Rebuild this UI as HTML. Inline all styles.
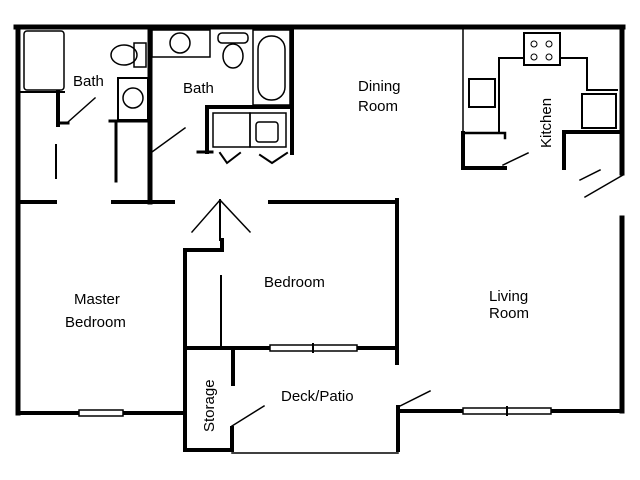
<!DOCTYPE html>
<html><head><style>html,body{margin:0;padding:0;background:#fff}svg{display:block}text{font-family:"Liberation Sans",sans-serif;font-size:15px;fill:#000}</style></head>
<body>
<svg width="640" height="480" viewBox="0 0 640 480" xmlns="http://www.w3.org/2000/svg">
<g stroke="#000" fill="none" stroke-linecap="square">
<!-- outer walls -->
<line x1="16" y1="27" x2="623" y2="27" stroke-width="5"/>
<line x1="18" y1="27" x2="18" y2="413" stroke-width="5"/>
<line x1="18" y1="413" x2="185" y2="413" stroke-width="4"/>
<line x1="622" y1="27" x2="622" y2="173" stroke-width="5"/>
<line x1="622" y1="218" x2="622" y2="411" stroke-width="5"/>
<line x1="398" y1="411" x2="622" y2="411" stroke-width="4"/>
<!-- windows -->
<rect x="79" y="410" width="44" height="6" fill="#fff" stroke-width="1.5"/>
<rect x="463" y="408" width="88" height="6" fill="#fff" stroke-width="1.5"/><line x1="507" y1="407" x2="507" y2="415" stroke-width="2"/>
<!-- bath 1 -->
<rect x="24" y="31" width="40" height="59" stroke-width="1.5" rx="3"/>
<line x1="18" y1="92" x2="64" y2="92" stroke-width="2"/>
<line x1="58" y1="92" x2="58" y2="125" stroke-width="4"/>
<line x1="58" y1="123" x2="68" y2="123" stroke-width="3"/>
<line x1="68" y1="122" x2="95" y2="98" stroke-width="1.5"/>
<line x1="56" y1="145" x2="56" y2="180" stroke-width="2" stroke-dasharray="3,2"/>
<ellipse cx="124" cy="55" rx="13" ry="10" stroke-width="1.5"/>
<rect x="134" y="43" width="12" height="24" stroke-width="1.5"/>
<rect x="118" y="78" width="30" height="42" stroke-width="2"/>
<circle cx="133" cy="98" r="10" stroke-width="1.5"/>
<line x1="110" y1="121" x2="148" y2="121" stroke-width="3"/>
<line x1="116" y1="121" x2="116" y2="181" stroke-width="3" stroke-dasharray="5,2"/>
<line x1="150" y1="27" x2="150" y2="202" stroke-width="5"/>
<line x1="18" y1="202" x2="55" y2="202" stroke-width="4"/>
<line x1="113" y1="202" x2="173" y2="202" stroke-width="4"/>
<!-- bath 2 -->
<rect x="152" y="30" width="58" height="27" stroke-width="1.5"/>
<circle cx="180" cy="43" r="10" stroke-width="1.5"/>
<rect x="218" y="33" width="30" height="10" rx="4" stroke-width="1.5"/>
<ellipse cx="233" cy="56" rx="10" ry="12" stroke-width="1.5"/>
<rect x="253" y="30" width="37" height="75" stroke-width="1.5"/>
<rect x="258" y="36" width="27" height="64" rx="13" stroke-width="1.5"/>
<line x1="292" y1="27" x2="292" y2="153" stroke-width="4"/>
<line x1="207" y1="107" x2="292" y2="107" stroke-width="4"/>
<line x1="207" y1="107" x2="207" y2="152" stroke-width="4"/>
<line x1="198" y1="152" x2="212" y2="152" stroke-width="3"/>
<rect x="213" y="113" width="37" height="34" stroke-width="1.5"/>
<rect x="250" y="113" width="36" height="34" stroke-width="1.5"/>
<rect x="256" y="122" width="22" height="20" rx="3" stroke-width="1.5"/>
<polyline points="220,153 227,163 240,153" stroke-width="2"/>
<polyline points="260,155 272,163 287,153" stroke-width="2"/>
<line x1="152" y1="152" x2="185" y2="128" stroke-width="1.5"/>
<!-- bedroom -->
<line x1="270" y1="202" x2="397" y2="202" stroke-width="4"/>
<line x1="397" y1="200" x2="397" y2="363" stroke-width="4"/>
<line x1="220" y1="200" x2="220" y2="240" stroke-width="2"/>
<line x1="220" y1="200" x2="192" y2="232" stroke-width="1.5"/>
<line x1="220" y1="200" x2="250" y2="232" stroke-width="1.5"/>
<polyline points="222,240 222,250 185,250 185,450 232,450 232,428" stroke-width="4"/>
<line x1="221" y1="276" x2="221" y2="348" stroke-width="2" stroke-dasharray="6,2"/>
<line x1="185" y1="348" x2="395" y2="348" stroke-width="4"/>
<rect x="270" y="345" width="87" height="6" fill="#fff" stroke-width="1.5"/><line x1="313" y1="344" x2="313" y2="352" stroke-width="2"/>
<line x1="233" y1="350" x2="233" y2="384" stroke-width="4"/>
<line x1="232" y1="426" x2="264" y2="406" stroke-width="1.5"/>
<line x1="232" y1="453" x2="398" y2="453" stroke-width="1.5"/>
<line x1="398" y1="407" x2="398" y2="450" stroke-width="4"/>
<line x1="398" y1="407" x2="430" y2="391" stroke-width="1.5"/>
<!-- kitchen -->
<line x1="463" y1="27" x2="463" y2="133" stroke-width="1.5"/>
<polyline points="463,133 463,168 505,168" stroke-width="4"/>
<polyline points="463,133 505,133 505,138" stroke-width="2.5"/>
<polyline points="499,133 499,58 524,58" stroke-width="2"/>
<rect x="469" y="79" width="26" height="28" stroke-width="2"/>
<rect x="524" y="33" width="36" height="32" stroke-width="2"/>
<circle cx="534" cy="44" r="3"/><circle cx="549" cy="44" r="3"/><circle cx="534" cy="57" r="3"/><circle cx="549" cy="57" r="3"/>
<polyline points="560,58 587,58 587,90 617,90" stroke-width="2"/>
<rect x="582" y="94" width="34" height="34" stroke-width="2"/>
<polyline points="620,132 564,132 564,168" stroke-width="4"/>
<line x1="503" y1="165" x2="528" y2="153" stroke-width="1.5"/>
<line x1="580" y1="180" x2="600" y2="170" stroke-width="1.5"/>
<line x1="585" y1="197" x2="623" y2="175" stroke-width="1.5"/>
</g>
<text x="73" y="86">Bath</text>
<text x="183" y="93">Bath</text>
<text x="358" y="91">Dining</text>
<text x="358" y="111">Room</text>
<text transform="translate(551,148) rotate(-90)">Kitchen</text>
<text x="264" y="287">Bedroom</text>
<text x="74" y="304">Master</text>
<text x="65" y="327">Bedroom</text>
<text x="489" y="301">Living</text>
<text x="489" y="318">Room</text>
<text x="281" y="401">Deck/Patio</text>
<text transform="translate(214,432) rotate(-90)">Storage</text>
</svg>
</body></html>
